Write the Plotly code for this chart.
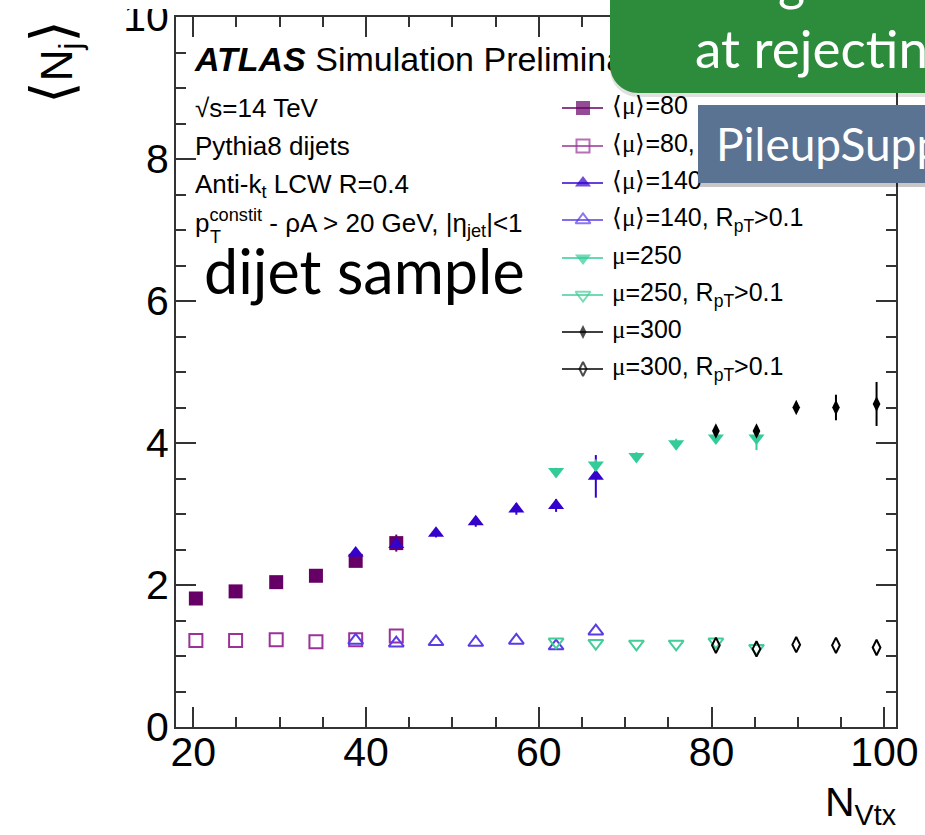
import plotly.graph_objects as go

# ---- data: mean jet multiplicity vs number of reconstructed vertices ----
nvtx_mu80 = [20.3, 24.9, 29.6, 34.2, 38.8, 43.5]
nvtx_mu140 = [38.8, 43.5, 48.1, 52.7, 57.4, 62.0, 66.6]
nvtx_mu250 = [62.0, 66.6, 71.3, 75.9, 80.5, 85.2]
nvtx_mu300 = [80.5, 85.2, 89.8, 94.4, 99.1]

nj_mu80 = [1.81, 1.91, 2.04, 2.13, 2.34, 2.59]
nj_mu80_err = [0.03, 0.03, 0.04, 0.05, 0.06, 0.12]
nj_mu80_rpt = [1.22, 1.22, 1.23, 1.20, 1.23, 1.28]

nj_mu140 = [2.45, 2.57, 2.73, 2.89, 3.07, 3.12, 3.53]
nj_mu140_err = [0.05, 0.06, 0.06, 0.07, 0.08, 0.09, 0.30]
nj_mu140_rpt = [1.22, 1.18, 1.20, 1.19, 1.22, 1.14, 1.35]

nj_mu250 = [3.60, 3.69, 3.81, 3.99, 4.07, 4.07]
nj_mu250_err = [0.05, 0.08, 0.06, 0.07, 0.08, 0.17]
nj_mu250_rpt = [1.20, 1.18, 1.17, 1.17, 1.20, 1.11]

nj_mu300 = [4.17, 4.17, 4.50, 4.50, 4.55]
nj_mu300_err = [0.06, 0.07, 0.07, 0.18, 0.31]
nj_mu300_rpt = [1.15, 1.10, 1.16, 1.15, 1.12]

x_ticks = [20, 40, 60, 80, 100]
y_ticks = [0, 2, 4, 6, 8, 10]

MU = '<span style="font-family:Liberation Serif">μ</span>'
legend_labels = [
    f"⟨{MU}⟩=80",
    f"⟨{MU}⟩=80, R<sub>pT</sub>&gt;0.1",
    f"⟨{MU}⟩=140",
    f"⟨{MU}⟩=140, R<sub>pT</sub>&gt;0.1",
    f"{MU}=250",
    f"{MU}=250, R<sub>pT</sub>&gt;0.1",
    f"{MU}=300",
    f"{MU}=300, R<sub>pT</sub>&gt;0.1",
]

# ---- styles ----
C80, C80o = "#660066", "#993399"
C140, C140o = "#3300cc", "#5a3ce6"
C250, C250o = "#33cc99", "#44cc99"
C300 = "#000000"
FONT = "Liberation Sans"
FRAME = "#333333"

W, H = 925, 835
PL, PR, PT, PB = 176, 896, 17, 727


def pxx(x):
    return (x - PL) / (PR - PL)


def pxy(y):
    return (PB - y) / (PB - PT)


fig = go.Figure()


def add_series(x, y, err, symbol, color, size, filled):
    marker = dict(symbol=symbol, size=size, color=color,
                  line=dict(color=color, width=0 if filled else 2))
    kw = {}
    if err is not None:
        kw["error_y"] = dict(type="data", array=err, visible=True,
                             color=color, thickness=2, width=0)
    fig.add_trace(go.Scatter(x=x, y=y, mode="markers", marker=marker,
                             showlegend=False, hoverinfo="skip", **kw))


add_series(nvtx_mu80, nj_mu80, nj_mu80_err, "square", C80, 14, True)
add_series(nvtx_mu80, nj_mu80_rpt, None, "square-open", C80o, 13, False)
add_series(nvtx_mu140, nj_mu140, nj_mu140_err, "triangle-up", C140, 14, True)
add_series(nvtx_mu140, nj_mu140_rpt, None, "triangle-up-open", C140o, 13, False)
add_series(nvtx_mu250, nj_mu250, nj_mu250_err, "triangle-down", C250, 14, True)
add_series(nvtx_mu250, nj_mu250_rpt, None, "triangle-down-open", C250o, 13, False)
add_series(nvtx_mu300, nj_mu300, nj_mu300_err, "diamond-tall", C300, 11, True)
add_series(nvtx_mu300, nj_mu300_rpt, None, "diamond-tall-open", C300, 11, False)

# ---- legend keys and info text on a pixel-space overlay ----
leg_y = [108, 146, 183, 220, 258, 295, 332, 369]
leg_sym = ["square", "square-open", "triangle-up", "triangle-up-open",
           "triangle-down", "triangle-down-open", "diamond-tall", "diamond-tall-open"]
leg_col = [C80, C80o, C140, C140o, C250, C250o, C300, C300]
leg_size = [14, 13, 14, 13, 14, 13, 10, 10]
leg_lw = [0, 2, 0, 2, 0, 2, 0, 2]

shapes = []
for yy, cc in zip(leg_y, leg_col):
    shapes.append(dict(type="line", xref="x2", yref="y2", x0=562, x1=603,
                       y0=yy, y1=yy, line=dict(color=cc, width=1.5), layer="below"))

fig.add_trace(go.Scatter(
    x=[583] * len(leg_y), y=leg_y, mode="markers", xaxis="x2", yaxis="y2",
    marker=dict(symbol=leg_sym, size=leg_size, color=leg_col,
                line=dict(color=leg_col, width=leg_lw)),
    showlegend=False, hoverinfo="skip"))

fig.add_trace(go.Scatter(
    x=[612] * len(leg_y), y=leg_y, mode="text", xaxis="x2", yaxis="y2",
    text=legend_labels, textposition="middle right",
    textfont=dict(family=FONT, size=25, color="black"),
    showlegend=False, hoverinfo="skip"))

info_lines = [
    "√s=14 TeV",
    "Pythia8 dijets",
    "Anti-k<sub>t</sub> LCW R=0.4",
    "p<sup>constit</sup> - ρA &gt; 20 GeV, |η<sub>jet</sub>|&lt;1",
]
info_y = [110, 148, 186, 225]
fig.add_trace(go.Scatter(
    x=[195] * len(info_lines), y=info_y, mode="text", xaxis="x2", yaxis="y2",
    text=info_lines, textposition="middle right",
    textfont=dict(family=FONT, size=26, color="black"),
    showlegend=False, hoverinfo="skip"))
# subscript T under the p of p_T^constit
fig.add_trace(go.Scatter(
    x=[210], y=[238], mode="text", xaxis="x2", yaxis="y2",
    text=["T"], textposition="middle right",
    textfont=dict(family=FONT, size=18, color="black"),
    showlegend=False, hoverinfo="skip"))

fig.add_trace(go.Scatter(
    x=[195], y=[62], mode="text", xaxis="x2", yaxis="y2",
    text=["<b><i>ATLAS</i></b> Simulation Preliminary"], textposition="middle right",
    textfont=dict(family=FONT, size=34, color="black"),
    showlegend=False, hoverinfo="skip"))

fig.add_trace(go.Scatter(
    x=[204], y=[279], mode="text", xaxis="x2", yaxis="y2",
    text=["dijet sample"], textposition="middle right",
    textfont=dict(family="Lato", size=61, color="black"),
    showlegend=False, hoverinfo="skip"))

# ---- slide overlay boxes ----
r, k = 28, 0.552
gx0, gy1 = 610, 93
green_path = (f"M {pxx(gx0)},{pxy(-20)} L {pxx(940)},{pxy(-20)} L {pxx(940)},{pxy(gy1)} "
              f"L {pxx(gx0 + r)},{pxy(gy1)} "
              f"C {pxx(gx0 + r - k * r)},{pxy(gy1)} {pxx(gx0)},{pxy(gy1 - r + k * r)} "
              f"{pxx(gx0)},{pxy(gy1 - r)} Z")
shadow_path = (f"M {pxx(gx0)},{pxy(-20)} L {pxx(940)},{pxy(-20)} L {pxx(940)},{pxy(gy1 + 4)} "
               f"L {pxx(gx0 + r)},{pxy(gy1 + 4)} "
               f"C {pxx(gx0 + r - k * r)},{pxy(gy1 + 4)} {pxx(gx0)},{pxy(gy1 + 4 - r + k * r)} "
               f"{pxx(gx0)},{pxy(gy1 + 4 - r)} Z")
# white strip: the page starts just below the top of the "10" label
shapes.append(dict(type="rect", xref="paper", yref="paper",
                   x0=pxx(90), x1=pxx(600), y0=pxy(9), y1=pxy(-20),
                   fillcolor="white", line=dict(width=0), layer="above"))
shapes.append(dict(type="path", xref="paper", yref="paper", path=shadow_path,
                   fillcolor="rgba(0,0,0,0.12)", line=dict(width=0), layer="above"))
shapes.append(dict(type="path", xref="paper", yref="paper", path=green_path,
                   fillcolor="#2d8c3c", line=dict(width=0), layer="above"))
shapes.append(dict(type="rect", xref="paper", yref="paper",
                   x0=pxx(700), x1=pxx(940), y0=pxy(187), y1=pxy(107),
                   fillcolor="rgba(0,0,0,0.22)", line=dict(width=0), layer="above"))
shapes.append(dict(type="rect", xref="paper", yref="paper",
                   x0=pxx(698), x1=pxx(940), y0=pxy(183), y1=pxy(105),
                   fillcolor="#5b7393", line=dict(width=0), layer="above"))

BR = '<span style="font-family:DejaVu Sans;font-size:58px">'
annotations = [
    dict(text="Charged-track info is good", x=pxx(668), y=pxy(-20), xref="paper", yref="paper",
         xanchor="left", yanchor="middle", showarrow=False,
         font=dict(family="Lato", size=52, color="white")),
    dict(text="at rejecting pileup jets", x=pxx(693), y=pxy(47), xref="paper", yref="paper",
         xanchor="left", yanchor="middle", showarrow=False,
         font=dict(family="Lato", size=53, color="white")),
    dict(text="PileupSuppression", x=pxx(714), y=pxy(143), xref="paper", yref="paper",
         xanchor="left", yanchor="middle", showarrow=False,
         font=dict(family="Lato", size=46, color="white")),
    # axis titles
    dict(text="N<sub>Vtx</sub>", x=pxx(899), y=pxy(805), xref="paper", yref="paper",
         xanchor="right", yanchor="middle", showarrow=False,
         font=dict(family=FONT, size=41, color="black")),
    dict(text=f"{BR}⟨</span>N<sub>j</sub>{BR}⟩</span>", x=pxx(53), y=pxy(62),
         xref="paper", yref="paper",
         xanchor="center", yanchor="middle", showarrow=False, textangle=-90,
         font=dict(family=FONT, size=44, color="black")),
]

axis_common = dict(showgrid=False, zeroline=False, showline=True, linewidth=2,
                   linecolor=FRAME, mirror="ticks", ticks="inside", tickwidth=2,
                   tickcolor=FRAME, ticklen=20, ticklabeloverflow="allow",
                   automargin=False,
                   tickfont=dict(family=FONT, size=41, color="black"))

fig.update_layout(
    width=W, height=H, autosize=False,
    margin=dict(l=PL, r=W - PR, t=PT, b=H - PB, pad=0, autoexpand=False),
    paper_bgcolor="white", plot_bgcolor="white",
    showlegend=False,
    xaxis=dict(range=[18, 101.35], tickvals=x_ticks, ticktext=[str(v) for v in x_ticks],
               ticklabelstandoff=-12,
               minor=dict(dtick=5, tick0=0, ticks="inside", ticklen=10, tickwidth=2,
                          tickcolor=FRAME, showgrid=False),
               **axis_common),
    yaxis=dict(range=[0, 10], tickvals=y_ticks, ticktext=[str(v) for v in y_ticks],
               ticklabelstandoff=-3,
               minor=dict(dtick=0.5, tick0=0, ticks="inside", ticklen=10, tickwidth=2,
                          tickcolor=FRAME, showgrid=False),
               **axis_common),
    xaxis2=dict(overlaying="x", range=[PL, PR], visible=False, automargin=False),
    yaxis2=dict(overlaying="y", range=[PB, PT], visible=False, automargin=False),
    shapes=shapes,
    annotations=annotations,
)

fig.write_html("out.html")
